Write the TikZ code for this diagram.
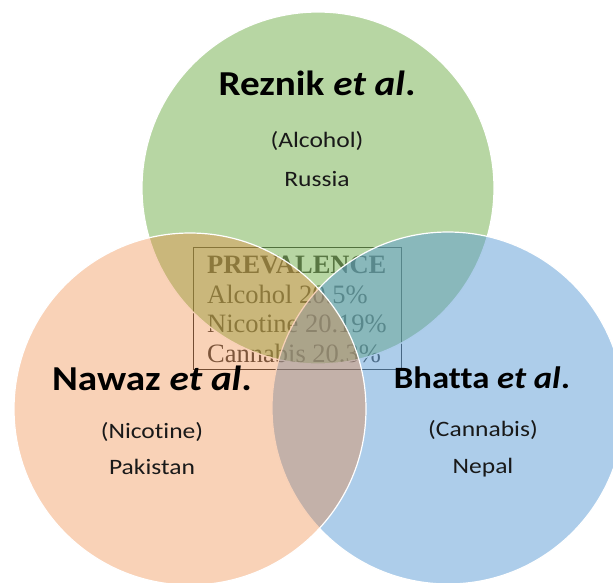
\documentclass[tikz,border=0pt]{standalone}
\usepackage{fontspec}
\setmainfont{Carlito}[Ligatures=NoCommon]
\newfontfamily\boxfont{Liberation Serif}
\definecolor{vgreen}{RGB}{112,173,71}
\definecolor{vblue}{RGB}{91,155,213}
\definecolor{vorange}{RGB}{237,125,49}
\tikzset{
  venn/.style={circle, minimum size=352pt, inner sep=0pt, draw=white, line width=1.2pt},
  title/.style={anchor=base, inner sep=0pt, xscale=1.12, font=\fontsize{35}{40}\selectfont\bfseries},
  sub/.style={anchor=base, inner sep=0pt, xscale=1.16, font=\fontsize{22}{25}\selectfont, text=black!90},
  prev/.style={anchor=base west, inner sep=0pt, font=\boxfont\fontsize{26.5}{30}\selectfont, text=black!75}
}
\begin{document}
\begin{tikzpicture}[x=1pt,y=-1pt]
\useasboundingbox (0,0) rectangle (613,582);
\clip (0,0) rectangle (613,582);
% prevalence box (under the circles)
\node[draw=black!80, line width=0.9pt, minimum width=208pt, minimum height=122pt, inner sep=0pt] (box) at (297,308) {};
\node[prev, font=\boxfont\fontsize{26.5}{30}\selectfont\bfseries] (ph) at (207,273) {PREVALENCE};
\node[prev] (p1) at (207,303) {Alcohol 20.5\%};
\node[prev] (p2) at (207,332) {Nicotine 20.19\%};
\node[prev] (p3) at (207,362) {Cannabis 20.3\%};
% circles
\node[venn, fill=vgreen, fill opacity=0.5] (g) at (318,188) {};
\node[venn, fill=vblue, fill opacity=0.5] (b) at (448,408) {};
\node[venn, fill=vorange, fill opacity=0.35] (o) at (190,409) {};
% labels
\node[title] (t1) at (317,95) {Reznik \textit{et al}.};
\node[sub] (s1) at (317,147) {(Alcohol)};
\node[sub] (c1) at (317,186) {Russia};
\node[title] (t2) at (152,390) {Nawaz \textit{et al}.};
\node[sub] (s2) at (152,438) {(Nicotine)};
\node[sub] (c2) at (152,474) {Pakistan};
\node[title, font=\fontsize{31}{36}\selectfont\bfseries] (t3) at (482,388) {Bhatta \textit{et al}.};
\node[sub] (s3) at (483,436) {(Cannabis)};
\node[sub] (c3) at (483,473) {Nepal};
\end{tikzpicture}
\end{document}
